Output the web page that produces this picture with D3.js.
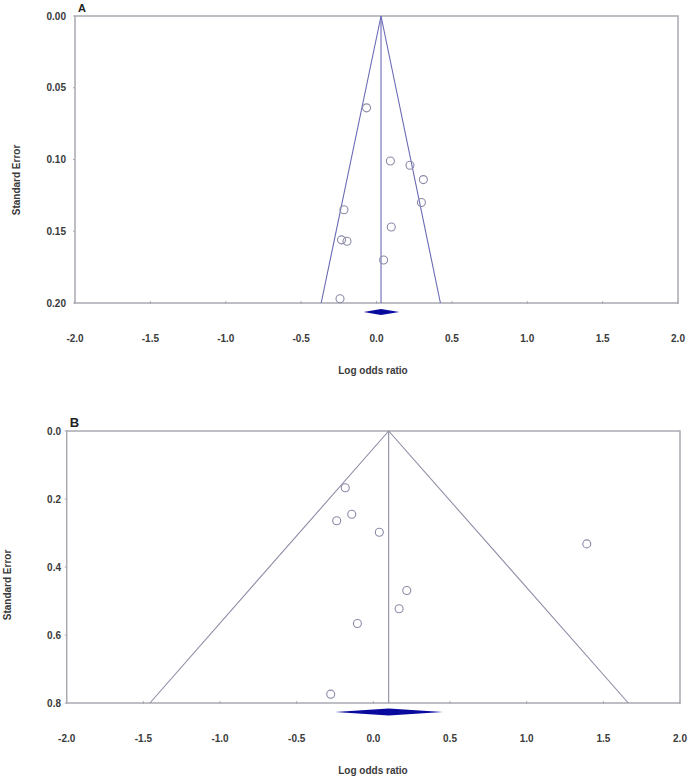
<!DOCTYPE html>
<html>
<head>
<meta charset="utf-8">
<script src="https://cdn.jsdelivr.net/npm/d3@7"></script>
<style>
  body { margin: 0; background: #fff; }
  text { font-family: "Liberation Sans", Arial, sans-serif; }
</style>
</head>
<body>
<div id="chart"></div>
<script>
// panel A
var logOrA = [-0.066, 0.092, 0.222, 0.311, 0.298, -0.216, 0.098, -0.232, -0.196, 0.047, -0.242];
var seA    = [0.064, 0.101, 0.104, 0.114, 0.130, 0.135, 0.147, 0.156, 0.157, 0.170, 0.197];
var yTicksA = [0, 0.05, 0.10, 0.15, 0.20];
var summaryA = { mean: 0.03, lo: -0.086, hi: 0.151, funnelLo: -0.367, funnelHi: 0.424 };

// panel B
var logOrB = [-0.183, -0.239, -0.141, 0.039, 1.392, 0.218, 0.168, -0.104, -0.278];
var seB    = [0.167, 0.264, 0.245, 0.298, 0.332, 0.469, 0.523, 0.566, 0.774];
var yTicksB = [0, 0.2, 0.4, 0.6, 0.8];
var summaryB = { mean: 0.10, lo: -0.25, hi: 0.453, funnelLo: -1.457, funnelHi: 1.663 };

var xTicks = [-2.0, -1.5, -1.0, -0.5, 0.0, 0.5, 1.0, 1.5, 2.0];

var width = 695,
    height = 780;

var svg = d3.select("#chart")
    .append("svg")
    .attr("width", width)
    .attr("height", height)

function funnel(opt) {
    var x = d3.scaleLinear().domain([-2, 2]).range([opt.left, opt.right])
    var y = d3.scaleLinear().domain([0, opt.maxSe]).range([opt.top, opt.bottom])
    var g = svg.append("g")
    var s = opt.summary

    // frame
    g.append("rect")
        .attr("x", opt.left)
        .attr("y", opt.top)
        .attr("width", opt.right - opt.left)
        .attr("height", opt.bottom - opt.top)
        .attr("fill", "none")
        .attr("stroke", "#a9a9b2")
        .attr("stroke-width", 1.5)

    // ticks
    g.selectAll(".xt").data(xTicks).enter().append("line")
        .attr("x1", function(d) { return x(d) }).attr("x2", function(d) { return x(d) })
        .attr("y1", opt.bottom - 2).attr("y2", opt.bottom + 1)
        .attr("stroke", "#a9a9b2")
    g.selectAll(".yt").data(opt.yTicks).enter().append("line")
        .attr("x1", opt.left - 2).attr("x2", opt.left)
        .attr("y1", function(d) { return y(d) }).attr("y2", function(d) { return y(d) })
        .attr("stroke", "#a9a9b2")

    g.selectAll(".xl").data(xTicks).enter().append("text")
        .attr("x", function(d) { return x(d) })
        .attr("y", opt.bottom + 39)
        .attr("text-anchor", "middle")
        .attr("font-size", 10)
        .attr("font-weight", "bold")
        .attr("fill", "#3a3a3a")
        .text(function(d) { return d.toFixed(1) })
    g.selectAll(".yl").data(opt.yTicks).enter().append("text")
        .attr("x", opt.ylabX)
        .attr("y", function(d) { return y(d) + 3.5 })
        .attr("text-anchor", "end")
        .attr("font-size", 10)
        .attr("font-weight", "bold")
        .attr("fill", "#3a3a3a")
        .text(function(d) { return d.toFixed(opt.dec) })

    // funnel
    var apex = [x(s.mean), y(0)]
    g.append("path")
        .attr("d", "M" + x(s.funnelLo) + "," + y(opt.maxSe) + "L" + apex + "L" + x(s.funnelHi) + "," + y(opt.maxSe))
        .attr("fill", "none")
        .attr("stroke", opt.lineColor)
        .attr("stroke-width", 1.1)
    g.append("line")
        .attr("x1", apex[0]).attr("x2", apex[0])
        .attr("y1", y(0)).attr("y2", y(opt.maxSe))
        .attr("stroke", opt.lineColor)
        .attr("stroke-width", 1.1)

    // studies
    g.selectAll(".study").data(opt.se).enter().append("circle")
        .attr("class", "study")
        .attr("cx", function(d, i) { return x(opt.logOr[i]) })
        .attr("cy", function(d) { return y(d) })
        .attr("r", 4)
        .attr("fill", "none")
        .attr("stroke", "#8a8aa8")
        .attr("stroke-width", 1.1)

    // summary diamond
    var dy = opt.bottom + opt.diamondOff
    g.append("path")
        .attr("d", "M" + x(s.lo) + "," + dy + "L" + x(s.mean) + "," + (dy - opt.diamondH) +
            "L" + x(s.hi) + "," + dy + "L" + x(s.mean) + "," + (dy + opt.diamondH) + "Z")
        .attr("fill", "#0a0a9e")

    // labels
    g.append("text")
        .attr("x", 373)
        .attr("y", opt.bottom + 71)
        .attr("text-anchor", "middle")
        .attr("font-size", 10)
        .attr("font-weight", "bold")
        .attr("fill", "#3a3a3a")
        .text("Log odds ratio")
    g.append("text")
        .attr("transform", "translate(" + opt.ytitleX + "," + opt.ytitleY + ") rotate(-90)")
        .attr("text-anchor", "middle")
        .attr("font-size", 10)
        .attr("font-weight", "bold")
        .attr("fill", "#3a3a3a")
        .text("Standard Error")
    g.append("text")
        .attr("x", opt.left + 3)
        .attr("y", opt.nameY)
        .attr("font-size", opt.nameSize)
        .attr("font-weight", "bold")
        .attr("fill", "#222")
        .text(opt.name)
}

funnel({
    name: "A", nameY: 12, nameSize: 11,
    left: 75, right: 678, top: 16, bottom: 303, maxSe: 0.2,
    yTicks: yTicksA, dec: 2, ylabX: 66, ytitleX: 20, ytitleY: 180,
    logOr: logOrA, se: seA, summary: summaryA, lineColor: "#6a6ab4",
    diamondOff: 9, diamondH: 3
})

funnel({
    name: "B", nameY: 427, nameSize: 13,
    left: 66.7, right: 680, top: 431, bottom: 703, maxSe: 0.8,
    yTicks: yTicksB, dec: 1, ylabX: 61, ytitleX: 11, ytitleY: 585,
    logOr: logOrB, se: seB, summary: summaryB, lineColor: "#8e8ea6",
    diamondOff: 9, diamondH: 3.5
})
</script>
</body>
</html>
